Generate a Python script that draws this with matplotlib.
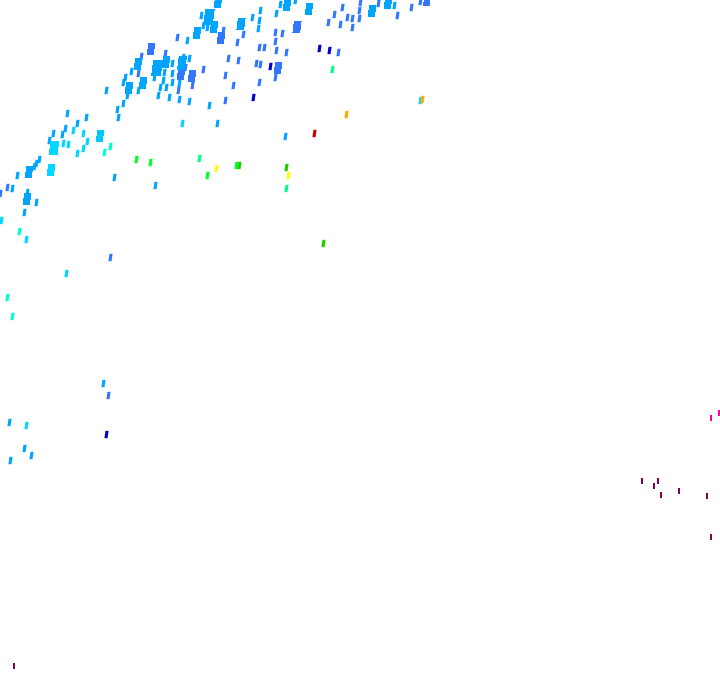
import matplotlib
matplotlib.use('Agg')
import matplotlib.pyplot as plt
from matplotlib.path import Path

# positions, one pair of lists per colour
navy_x = [253, 270, 319, 329, 106]
navy_y = [97, 66, 48, 50, 434]
blue_x = [141, 138, 165, 185, 178, 192, 203, 225, 228, 238, 225, 233, 259, 256, 260, 259, 264, 237, 243, 223, 177,
          328, 334, 340, 342, 347, 352, 352, 359, 359, 360, 378, 397, 411, 420, 275, 282, 275, 276, 286, 338, 275,
          7, 0, 110, 108]
blue_y = [56, 73, 53, 67, 90, 85, 69, 75, 58, 60, 100, 85, 82, 63, 64, 47, 47, 42, 34, 30, 37,
          22, 14, 24, 7, 17, 18, 27, 18, 10, 2, 3, 15, 7, 1, 32, 33, 41, 50, 52, 52, 77,
          187, 193, 257, 395]
sky_x = [106, 117, 118, 123, 127, 123, 125, 131, 138, 154, 164, 163, 160, 158, 166, 169, 172, 172, 172, 179, 179,
         183, 189, 189, 209, 217, 187, 201, 203, 207, 252, 260, 259, 258, 276, 280, 295, 394, 285,
         67, 77, 86, 49, 53, 62, 65, 114, 155, 39, 36, 34, 17, 12, 27, 36, 24, 103, 9, 24, 31, 10]
sky_y = [90, 109, 117, 103, 95, 82, 77, 71, 90, 77, 72, 80, 87, 95, 87, 97, 63, 73, 82, 99, 83,
         57, 58, 101, 105, 123, 40, 15, 25, 27, 17, 10, 20, 28, 13, 4, 0, 5, 136,
         113, 123, 117, 140, 133, 134, 128, 177, 185, 159, 163, 166, 175, 188, 192, 202, 212, 383, 422, 448, 455, 460]
cyan_x = [182, 73, 83, 63, 68, 87, 83, 77, 1, 26, 66, 26, 420]
cyan_y = [123, 130, 133, 143, 144, 141, 148, 153, 220, 239, 273, 425, 100]
aqua_x = [110, 104, 19, 7, 12]
aqua_y = [146, 152, 231, 297, 316]
spring_x = [332, 199, 286]
spring_y = [69, 158, 188]
green_x = [136, 150, 207, 236]
green_y = [159, 162, 175, 165]
dkgreen_x = [239, 286, 323]
dkgreen_y = [165, 167, 243]
yellow_x = [216, 288]
yellow_y = [168, 175]
orange_x = [346, 422]
orange_y = [114, 99]
red_x = [314]
red_y = [133]

# the fat marks
blob_x = [129, 138, 143, 151, 157, 166, 181, 182, 192, 221, 241, 214, 209, 197, 218, 287, 309, 297, 372, 388, 427,
          278, 54, 100, 51, 29, 27]
blob_y = [88, 64, 83, 49, 68, 62, 74, 63, 76, 38, 24, 27, 17, 33, 2, 5, 9, 27, 11, 3, 1,
          68, 148, 136, 170, 172, 199]
blob_size = [60, 60, 60, 55, 120, 60, 60, 80, 60, 60, 70, 60, 110, 60, 60, 60, 55, 70, 60, 60, 50,
             60, 90, 55, 60, 55, 60]
blob_color = ['#00a5ff', '#00a5ff', '#00a5ff', '#3377ff', '#00a5ff', '#00a5ff', '#3377ff', '#00a5ff', '#3377ff',
              '#3377ff', '#00a5ff', '#00a5ff', '#00a5ff', '#00a5ff', '#00a5ff', '#00a5ff', '#00a5ff', '#3377ff',
              '#00a5ff', '#00a5ff', '#3377ff', '#3377ff', '#00d8ff', '#00c8ff', '#00d8ff', '#00a5ff', '#00a5ff']

# upright marks on the right hand side
pink_x = [719, 711]
pink_y = [413, 418]
purple_x = [642, 658, 654, 661, 679, 707, 711, 14]
purple_y = [481, 481, 486, 495, 491, 496, 537, 666]

slanted = Path([(-2.0, -3.5), (1.0, -3.5), (2.0, 3.5), (-1.0, 3.5), (-2.0, -3.5)], closed=True)
upright = Path([(-1.5, -3), (1.5, -3), (1.5, 3), (-1.5, 3), (-1.5, -3)], closed=True)
block = Path([(-2.8, -4), (1.8, -4), (2.8, 4), (-1.8, 4), (-2.8, -4)], closed=True)

fig = plt.figure(figsize=(7.2, 6.92), dpi=100)
ax = fig.add_axes([0, 0, 1, 1])

series = [(sky_x, sky_y, '#00a5ff'), (blue_x, blue_y, '#3377ff'), (navy_x, navy_y, '#0000c8'),
          (cyan_x, cyan_y, '#00d8ff'), (aqua_x, aqua_y, '#00ffd0'), (spring_x, spring_y, '#00ff88'),
          (green_x, green_y, '#00ff22'), (dkgreen_x, dkgreen_y, '#22cc00'), (yellow_x, yellow_y, '#ffff00'),
          (orange_x, orange_y, '#ffaa00'), (red_x, red_y, '#cc0000')]
for sx, sy, col in series:
    ax.scatter(sx, sy, s=28, c=col, marker=slanted, linewidths=0, antialiaseds=False)

ax.scatter(blob_x, blob_y, s=blob_size, c=blob_color, marker=block, linewidths=0, antialiaseds=False)
ax.scatter(pink_x, pink_y, s=16, c='#ff00aa', marker=upright, linewidths=0, antialiaseds=False)
ax.scatter(purple_x, purple_y, s=16, c='#880055', marker=upright, linewidths=0, antialiaseds=False)

ax.set_xlim(0, 720)
ax.set_ylim(692, 0)
ax.axis('off')
fig.savefig('out.png', dpi=100)
